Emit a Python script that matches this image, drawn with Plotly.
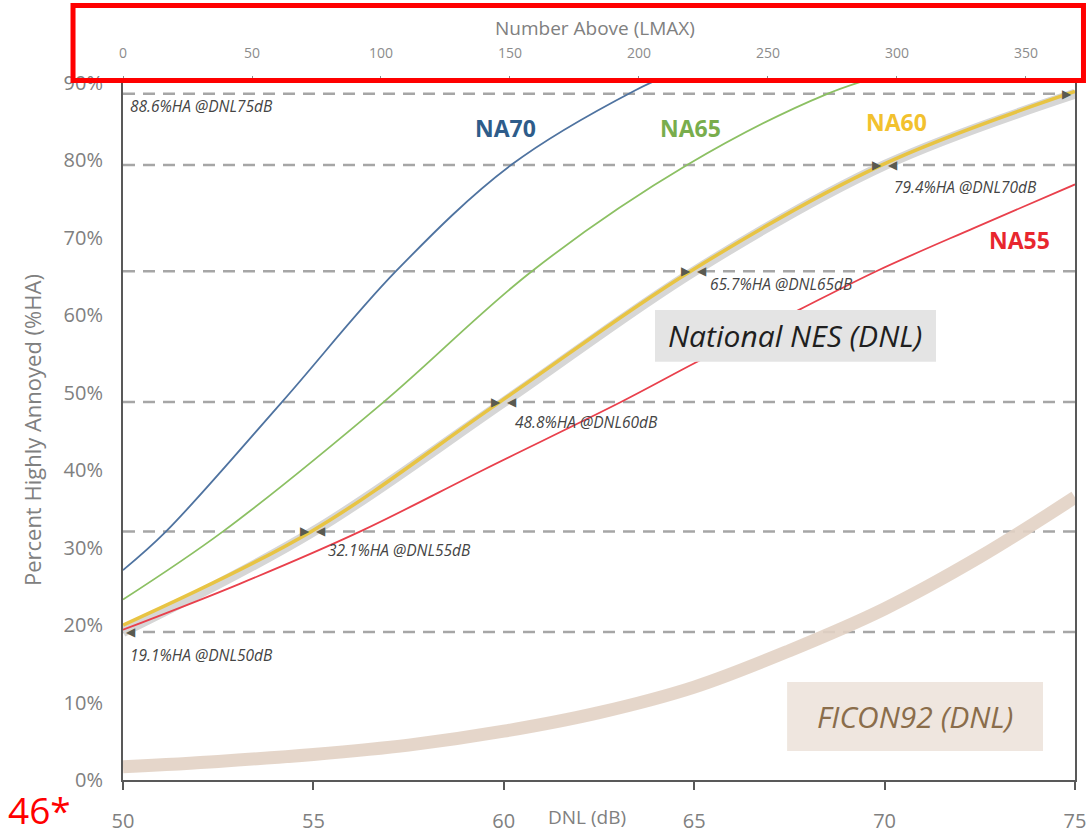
import plotly.graph_objects as go

# ---------------- data ----------------
# National NES (DNL) curve: DNL (dB) -> %HA
nes_dnl = [50, 55, 60, 65, 70, 75]
nes_ha = [19.1, 32.1, 48.8, 65.7, 79.4, 88.6]

# FICON92 (DNL) curve
ficon_dnl = [50, 52.5, 55, 57.5, 60, 62.5, 65, 67.5, 70, 72.5, 75]
ficon_ha = [1.7, 2.4, 3.3, 4.5, 6.3, 8.7, 12.0, 16.7, 22.1, 28.8, 36.5]

# Number-Above curves (top axis, Number Above LMAX) -> %HA
na70_n = [0, 16.7, 61.6, 105.8, 150.4, 198.8, 215]
na70_ha = [27.1, 32.1, 48.8, 65.7, 79.4, 89.1, 91.5]

na65_n = [0, 38.8, 101, 158.5, 218.6, 273, 300]
na65_ha = [23.3, 32.1, 48.8, 65.7, 79.4, 88.6, 91.5]

na60_n = [0, 73, 146, 220, 294, 369]
na60_ha = [20.0, 32.1, 48.8, 65.7, 79.4, 88.9]

na55_n = [0, 45, 92, 140, 193, 222, 262, 292, 330, 369]
na55_ha = [19.4, 25.3, 32.1, 40.1, 48.8, 53.9, 60.7, 65.7, 71.3, 76.9]

dnl_ticks = [50, 55, 60, 65, 70, 75]
na_ticks = [0, 50, 100, 150, 200, 250, 300, 350]
ha_ticks = [0, 10, 20, 30, 40, 50, 60, 70, 80, 90]
ha_ticktext = [f"{v}%" for v in ha_ticks]

series_labels = ["NA70", "NA65", "NA60", "NA55"]

# ---------------- figure ----------------
FONT = "Open Sans"
fig = go.Figure()

fig.add_trace(go.Scatter(x=ficon_dnl, y=ficon_ha, mode="lines",
                         line=dict(color="rgba(226,210,196,0.9)", width=13, shape="spline"),
                         xaxis="x", yaxis="y", hoverinfo="skip"))
fig.add_trace(go.Scatter(x=nes_dnl, y=nes_ha, mode="lines",
                         line=dict(color="#d6d6d6", width=10, shape="spline"),
                         xaxis="x", yaxis="y", hoverinfo="skip"))
fig.add_trace(go.Scatter(x=na70_n, y=na70_ha, mode="lines",
                         line=dict(color="#4f73a0", width=1.8, shape="spline"),
                         xaxis="x2", yaxis="y"))
fig.add_trace(go.Scatter(x=na65_n, y=na65_ha, mode="lines",
                         line=dict(color="#8cc063", width=1.8, shape="spline"),
                         xaxis="x2", yaxis="y"))
fig.add_trace(go.Scatter(x=na55_n, y=na55_ha, mode="lines",
                         line=dict(color="#e9404c", width=1.8, shape="spline"),
                         xaxis="x2", yaxis="y"))
fig.add_trace(go.Scatter(x=na60_n, y=na60_ha, mode="lines",
                         line=dict(color="#e8c443", width=3.5, shape="spline"),
                         xaxis="x2", yaxis="y"))

shapes = []
# dashed reference lines at NES values
for v in nes_ha:
    shapes.append(dict(type="line", xref="paper", x0=0, x1=1, yref="y", y0=v, y1=v,
                       line=dict(color="#a6a6a6", width=2.5, dash="12px,8px"), layer="below"))
# National NES box
shapes.append(dict(type="rect", xref="x", yref="y", x0=63.97, x1=71.35, y0=54.0, y1=60.7,
                   fillcolor="#e4e4e4", line=dict(width=0), layer="above"))
# FICON box
shapes.append(dict(type="rect", xref="x", yref="y", x0=67.44, x1=74.16, y0=3.75, y1=12.66,
                   fillcolor="#efe6df", line=dict(width=0), layer="above"))
# red highlight frame around top axis
shapes.append(dict(type="rect", xref="paper", yref="paper", x0=-0.0525, x1=1.0089,
                   y0=1.0036, y1=1.1112, line=dict(color="#ff0000", width=5),
                   fillcolor="rgba(0,0,0,0)", layer="above"))

ann = []
# value labels below each dashed line
label_pos = [(0.00525, 0.1793), (0.2132, 0.330), (0.4097, 0.5136),
             (0.6145, 0.7115), (0.8078, 0.8508), (0.00525, 0.967)]
for (d, h), (px, py) in zip(zip(nes_dnl, nes_ha), label_pos):
    ann.append(dict(xref="paper", yref="paper", x=px, y=py, xanchor="left", yanchor="middle",
                    text=f"<i>{h}%HA @DNL{d}dB</i>", showarrow=False,
                    font=dict(family=FONT, size=15.5, color="#444444")))
# arrow markers
for i, (d, h) in enumerate(zip(nes_dnl, nes_ha)):
    if i > 0:
        ann.append(dict(xref="x", yref="y", x=d, y=h, text="▶", showarrow=False, xshift=-8,
                        xanchor="center", yanchor="middle",
                        font=dict(family="DejaVu Sans", size=12, color="#5a5a50")))
    if i < len(nes_dnl) - 1:
        ann.append(dict(xref="x", yref="y", x=d, y=h, text="◀", showarrow=False, xshift=8,
                        xanchor="center", yanchor="middle",
                        font=dict(family="DejaVu Sans", size=12, color="#5a5a50")))

# series labels
lab_style = [((0.4013, 0.9354), "#2e5c8a"), ((0.5956, 0.9354), "#79ad4c"),
             ((0.812, 0.944), "#f2c12e"), ((0.9422, 0.7747), "#e8262e")]
for name, ((px, py), col) in zip(series_labels, lab_style):
    ann.append(dict(xref="paper", yref="paper", x=px, y=py, text=f"<b>{name}</b>",
                    xanchor="center", yanchor="middle",
                    showarrow=False, font=dict(family=FONT, size=23, color=col)))

ann.append(dict(xref="x", yref="y", x=67.66, y=57.35, text="<i>National NES (DNL)</i>",
                xanchor="center", yanchor="middle",
                showarrow=False, font=dict(family=FONT, size=30, color="#1f1f1f")))
ann.append(dict(xref="x", yref="y", x=70.8, y=8.2, text="<i>FICON92 (DNL)</i>",
                xanchor="center", yanchor="middle",
                showarrow=False, font=dict(family=FONT, size=30, color="#8a6d4b")))

# axis titles and slide marks
ann.append(dict(xref="paper", yref="paper", x=0.4958, y=1.0789, text="Number Above (LMAX)",
                xanchor="center", yanchor="middle",
                showarrow=False, font=dict(family=FONT, size=19, color="#808080")))
ann.append(dict(xref="paper", yref="paper", x=0.487, y=-0.053, text="DNL (dB)",
                xanchor="center", yanchor="middle",
                showarrow=False, font=dict(family=FONT, size=19, color="#808080")))
ann.append(dict(xref="paper", yref="paper", x=-0.0956, y=0.502, text="Percent Highly Annoyed (%HA)",
                xanchor="center", yanchor="middle",
                textangle=-90, showarrow=False, font=dict(family=FONT, size=22, color="#808080")))
ann.append(dict(xref="paper", yref="paper", x=-0.088, y=-0.042, text="46*",
                xanchor="center", yanchor="middle",
                showarrow=False, font=dict(family=FONT, size=37, color="#ff0000")))

fig.update_layout(
    width=1089, height=836,
    margin=dict(l=123, r=14, t=83, b=56, autoexpand=False),
    paper_bgcolor="white", plot_bgcolor="white",
    showlegend=False,
    font=dict(family=FONT),
    xaxis=dict(range=[50, 75], tickvals=dnl_ticks, showgrid=False, zeroline=False,
               showline=True, linecolor="#595959", linewidth=2,
               ticks="outside", ticklen=8, tickwidth=1.5, tickcolor="#595959",
               tickfont=dict(size=20, color="#808080"), ticklabelstandoff=14),
    xaxis2=dict(range=[0, 369], tickvals=na_ticks, overlaying="x", side="top", anchor="y",
                showgrid=False, zeroline=False, showline=True, linecolor="#595959", linewidth=2,
                ticks="outside", ticklen=5, tickcolor="#8c8c8c",
                tickfont=dict(size=14, color="#8c8c8c"), ticklabelstandoff=12),
    yaxis=dict(range=[0, 90], tickvals=ha_ticks, ticktext=ha_ticktext, showgrid=False,
               zeroline=False, showline=True, mirror=True, linecolor="#595959", linewidth=2,
               tickfont=dict(size=20, color="#808080"), ticklabelstandoff=14),
    shapes=shapes,
    annotations=ann,
)

fig.write_html("out.html", config={"displayModeBar": False},
               post_script="document.body.style.margin='0px';")
